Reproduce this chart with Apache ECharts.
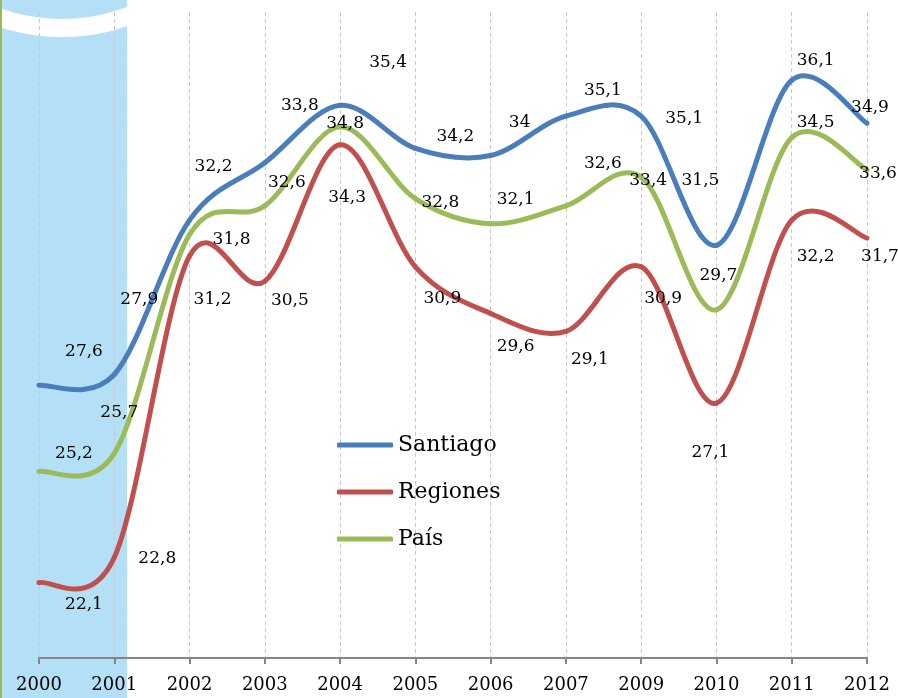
<!DOCTYPE html>
<html>
<head>
<meta charset="utf-8">
<script src="https://cdn.jsdelivr.net/npm/echarts@6/dist/echarts.min.js"></script>
<style>
  html, body { margin: 0; padding: 0; background: #fff; }
  #main { width: 898px; height: 698px; }
</style>
</head>
<body>
<div id="main"></div>
<script>
// datos
var years = ["2000", "2001", "2002", "2003", "2004", "2005", "2006", "2007", "2009", "2010", "2011", "2012"];
var santiago = [27.6, 27.9, 32.2, 33.8, 35.4, 34.2, 34, 35.1, 35.1, 31.5, 36.1, 34.9];
var regiones = [22.1, 22.8, 31.2, 30.5, 34.3, 30.9, 29.6, 29.1, 30.9, 27.1, 32.2, 31.7];
var pais = [25.2, 25.7, 31.8, 32.6, 34.8, 32.8, 32.1, 32.6, 33.4, 29.7, 34.5, 33.6];

// desplazamiento de las etiquetas (puestas a mano en el original)
var offSantiago = [[45, -34], [25, -75], [24, -54], [35, -57], [48, -43], [40, -12], [29, -33], [37, -25], [43, 3], [-16, -65], [24, -20], [3, -16]];
var offRegiones = [[45, 22], [43, 1], [23, 44], [25, 19], [7, 53], [27, 32], [25, 33], [24, 28], [22, 32], [-6, 49], [24, 36], [13, 18]];
var offPais = [[35, -18], [5, -41], [42, 5], [22, -23], [5, -3], [25, 4], [25, -24], [37, -42], [7, 3], [2, -34], [24, -15], [11, 4]];

var font = "DejaVu Serif";

// linea suavizada tipo Excel (bezier con tangentes de los vecinos)
function serie(name, color, values, offsets) {
  return {
    name: name,
    type: "custom",
    itemStyle: { color: color },
    data: values.map(function (v, i) { return [i, v]; }),
    renderItem: function (params, api) {
      var i = params.dataIndex;
      var n = values.length;
      function pt(j) {
        j = Math.max(0, Math.min(n - 1, j));
        return api.coord([j, values[j]]);
      }
      var p1 = pt(i);
      var children = [];
      if (i < n - 1) {
        var p0 = pt(i - 1), p2 = pt(i + 1), p3 = pt(i + 2);
        children.push({
          type: "bezierCurve",
          shape: {
            x1: p1[0], y1: p1[1],
            cpx1: p1[0] + (p2[0] - p0[0]) / 6, cpy1: p1[1] + (p2[1] - p0[1]) / 6,
            cpx2: p2[0] - (p3[0] - p1[0]) / 6, cpy2: p2[1] - (p3[1] - p1[1]) / 6,
            x2: p2[0], y2: p2[1]
          },
          style: { stroke: color, lineWidth: 5, fill: null, lineCap: "round" }
        });
      }
      children.push({
        type: "text",
        z2: 10,
        x: p1[0] + offsets[i][0],
        y: p1[1] + offsets[i][1],
        style: {
          text: String(values[i]).replace(".", ","),
          fill: "#000",
          font: "17px '" + font + "'",
          align: "center",
          verticalAlign: "middle"
        }
      });
      return { type: "group", children: children };
    }
  };
}

var chart = echarts.init(document.getElementById("main"));
chart.setOption({
  animation: false,
  graphic: [
    { type: "rect", z: -10, shape: { x: 0, y: 0, width: 127, height: 698 }, style: { fill: "#b4e0f7" } },
    { type: "ellipse", z: -9, shape: { cx: 62, cy: -58, rx: 130, ry: 86 }, style: { fill: null, stroke: "#fff", lineWidth: 18 } },
    { type: "rect", z: -8, shape: { x: 0, y: 0, width: 2, height: 698 }, style: { fill: "#9bbb59" } }
  ],
  grid: { left: 39, right: 31, top: 12, bottom: 40 },
  legend: {
    orient: "vertical",
    left: 337,
    top: 434,
    padding: 0,
    itemWidth: 56,
    itemHeight: 5,
    itemGap: 25,
    icon: "roundRect",
    textStyle: { fontFamily: font, fontSize: 22, lineHeight: 22, color: "#000" },
    data: ["Santiago", "Regiones", "País"]
  },
  xAxis: {
    type: "category",
    data: years,
    boundaryGap: false,
    axisLine: { lineStyle: { color: "#868686", width: 2 } },
    axisTick: { show: true, length: 6, lineStyle: { color: "#868686", width: 2 } },
    axisLabel: { fontFamily: font, fontSize: 18, color: "#000", margin: 18, interval: 0 },
    splitLine: { show: true, lineStyle: { color: "#cacaca", type: [4, 3], width: 1 } }
  },
  yAxis: {
    type: "value",
    min: 20,
    max: 38,
    show: false,
    splitLine: { show: false }
  },
  series: [
    serie("Santiago", "#4a7ebb", santiago, offSantiago),
    serie("Regiones", "#c0504d", regiones, offRegiones),
    serie("País", "#9bbb59", pais, offPais)
  ]
});
</script>
</body>
</html>
